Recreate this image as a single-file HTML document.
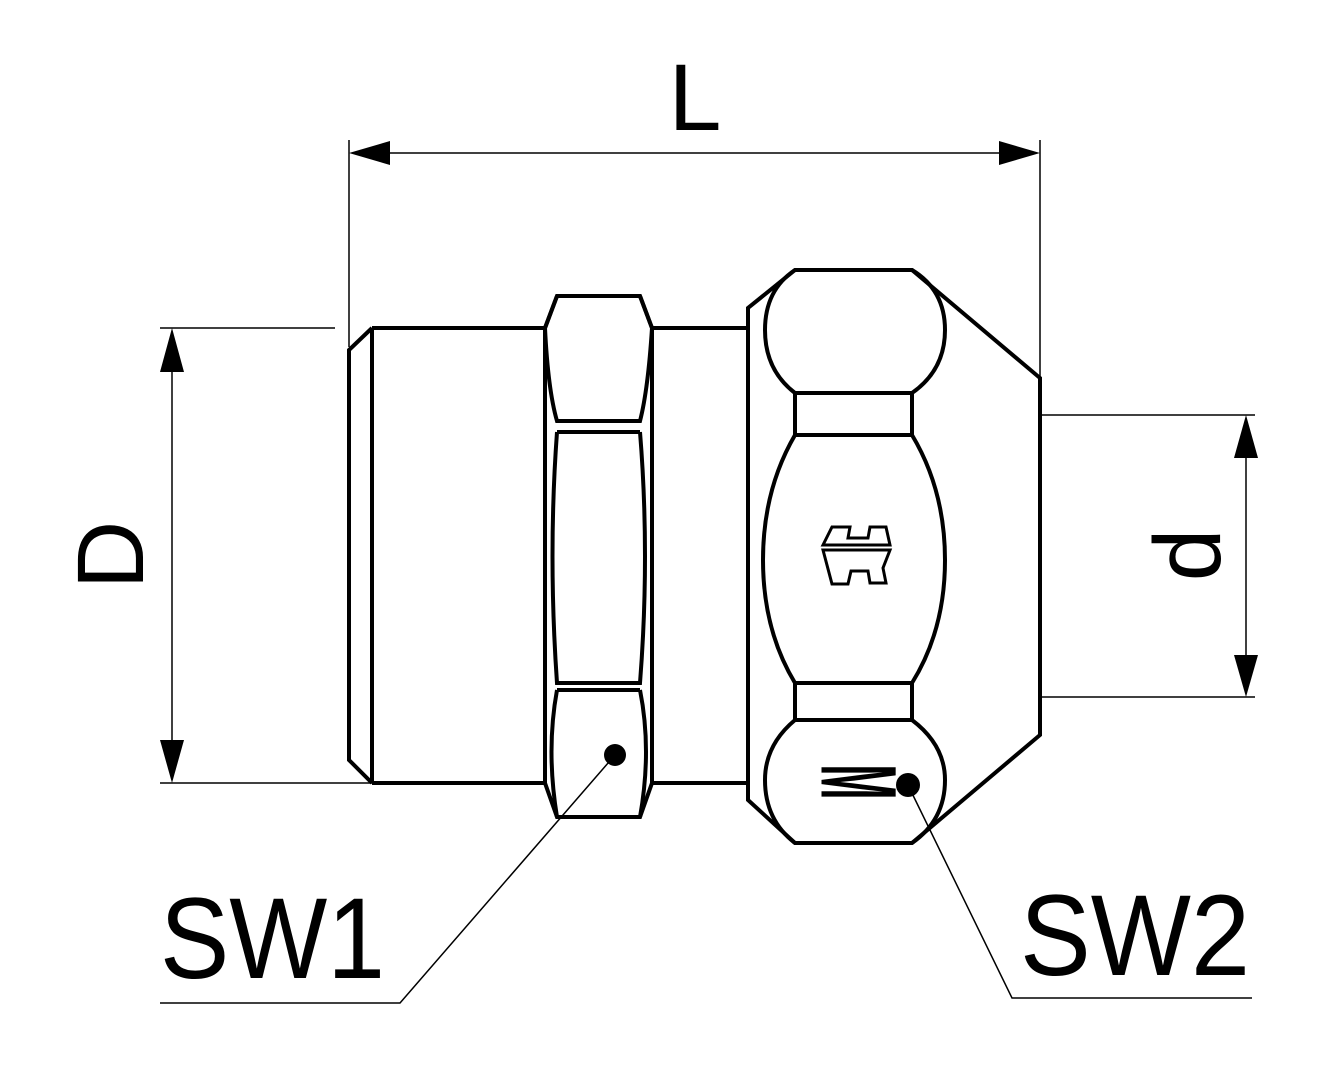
<!DOCTYPE html>
<html><head><style>html,body{margin:0;padding:0;background:#fff}</style></head><body>
<svg width="1323" height="1080" viewBox="0 0 1323 1080" xmlns="http://www.w3.org/2000/svg" font-family="Liberation Sans, sans-serif">
<g fill="none" stroke="#000" stroke-width="1.5">
<line x1="349" y1="140" x2="349" y2="347"/>
<line x1="1040" y1="140" x2="1040" y2="378"/>
<line x1="390" y1="153" x2="1000" y2="153"/>
<line x1="160" y1="328" x2="335" y2="328"/>
<line x1="160" y1="783" x2="372" y2="783"/>
<line x1="172" y1="370" x2="172" y2="740"/>
<line x1="1042" y1="415" x2="1255" y2="415"/>
<line x1="1042" y1="697" x2="1255" y2="697"/>
<line x1="1246" y1="455" x2="1246" y2="657"/>
<polyline points="615,755 400,1003 160,1003"/>
<polyline points="908,785 1012,998 1252,998"/>
</g>
<g fill="#000">
<polygon points="349,153 390,141 390,165"/>
<polygon points="1040,153 999,141 999,165"/>
<polygon points="172,328 160,372 184,372"/>
<polygon points="172,783 160,740 184,740"/>
<polygon points="1246,415 1234,458 1258,458"/>
<polygon points="1246,697 1234,655 1258,655"/>
<circle cx="615" cy="755" r="11"/>
<circle cx="908" cy="785" r="12"/>
</g>
<g fill="none" stroke="#000" stroke-width="4" stroke-linejoin="miter">
<polyline points="372,328 349,350 349,760 372,783"/>
<line x1="372" y1="328" x2="372" y2="783"/>
<line x1="372" y1="328" x2="545" y2="328"/>
<line x1="372" y1="783" x2="545" y2="783"/>
<line x1="652" y1="328" x2="748" y2="328"/>
<line x1="652" y1="783" x2="748" y2="783"/>
<polygon points="557,296 640,296 652,328 652,783 640,817 557,817 545,783 545,328"/>
<path d="M557,296 L545,328 Q548,390 557,421 L640,421 Q648,390 652,328 L640,296"/>
<line x1="557" y1="432" x2="640" y2="432"/>
<path d="M557,432 Q548,555 557,683 L640,683 Q650,555 640,432"/>
<line x1="557" y1="690" x2="640" y2="690"/>
<path d="M557,690 Q546,750 557,817 M640,690 Q652,750 640,817"/>
<polygon points="795,270 912,270 1040,378 1040,735 912,843 795,843 748,800 748,308"/>
<path d="M795,270 Q765,290 765,330 Q765,370 795,393 L912,393 Q945,370 945,330 Q945,290 912,270"/>
<rect x="795" y="393" width="117" height="42"/>
<path d="M795,435 Q763,490 763,560 Q763,630 795,683 L912,683 Q945,630 945,560 Q945,490 912,435"/>
<rect x="795" y="683" width="117" height="37"/>
<path d="M795,720 Q765,745 765,780 Q765,820 795,843 M912,720 Q945,745 945,780 Q945,820 912,843"/>
</g>
<g fill="none" stroke="#000" stroke-width="3">
<path d="M823,545 L832,527 L850,527 L848,538 L868,538 L870,527 L886,527 L890,545 L823,545 Z"/>
<path d="M823,550 L890,550 L883,568 L886,583 L870,583 L868,571 L851,571 L848,584 L832,584 Z"/>
</g>
<text x="0" y="0" font-size="60" font-weight="bold" text-anchor="middle" dominant-baseline="middle" transform="translate(850,782) rotate(90) scale(0.7,1.8)">M</text>
<text x="695" y="130" font-size="95" text-anchor="middle">L</text>
<text x="0" y="0" font-size="95" text-anchor="middle" transform="translate(143,555) rotate(-90)">D</text>
<text x="0" y="0" font-size="95" text-anchor="middle" transform="translate(1220,555) rotate(-90)">d</text>
<text x="160" y="978" font-size="115" textLength="225" lengthAdjust="spacingAndGlyphs">SW1</text>
<text x="1020" y="975" font-size="115" textLength="230" lengthAdjust="spacingAndGlyphs">SW2</text>
</svg>
</body></html>
